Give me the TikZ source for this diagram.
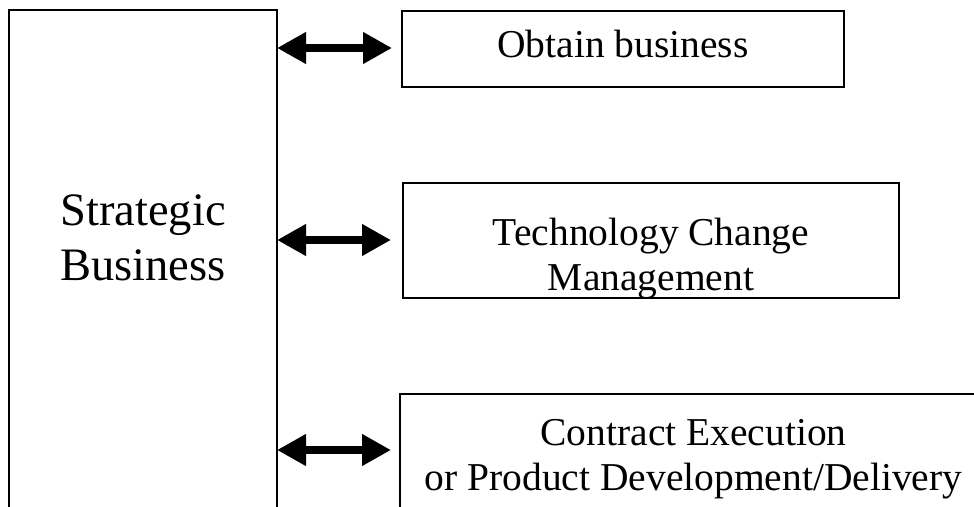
\documentclass[tikz,border=0pt]{standalone}
\usepackage{fontspec}
\setmainfont{Liberation Serif}
\usetikzlibrary{arrows.meta}
\begin{document}
\begin{tikzpicture}[x=1pt,y=-1pt,
  boxshape/.style={draw=black,line width=2pt,inner sep=0pt,outer sep=0pt,rectangle},
  txt/.style={inner sep=0pt,outer sep=0pt,align=center,font=\fontsize{39.5}{45}\selectfont},
  bigtxt/.style={inner sep=0pt,outer sep=0pt,align=center,font=\fontsize{46.5}{55}\selectfont},
  dblarrow/.style={line width=8pt,{Triangle[length=29pt,width=30pt]}-{Triangle[length=29pt,width=30pt]}}]
\clip (0,0) rectangle (974,506);
\fill[white] (0,0) rectangle (974,506);
% boxes
\node[boxshape,anchor=north west,minimum width=268pt,minimum height=600pt] (sb) at (9,10) {};
\node[boxshape,anchor=north west,minimum width=442pt,minimum height=76.5pt] (b1) at (402,10.5) {};
\node[boxshape,anchor=north west,minimum width=496pt,minimum height=115pt] (b2) at (403,183) {};
\node[boxshape,anchor=north west,minimum width=700pt,minimum height=200pt] (b3) at (400,393.5) {};
% texts
\node[bigtxt] (sbt) at (143,238.3) {Strategic\\Business};
\node[txt] (t1) at (623,43.7) {Obtain business};
\node[txt] (t2) at (651,258.3) {Technology Change\\Management};
\node[txt] (t3) at (693.5,459.5) {Contract Execution\\or Product Development/Delivery};
% arrows
\coordinate (a1) at (b1.west |- 0,48);
\coordinate (a2) at (b2.west |- 0,240);
\coordinate (a3) at (b3.west |- 0,450);
\draw[dblarrow,shorten >=10pt] (a1 -| sb.east) -- (a1);
\draw[dblarrow,shorten >=12pt] (a2 -| sb.east) -- (a2);
\draw[dblarrow,shorten >=9pt] (a3 -| sb.east) -- (a3);
\end{tikzpicture}
\end{document}
